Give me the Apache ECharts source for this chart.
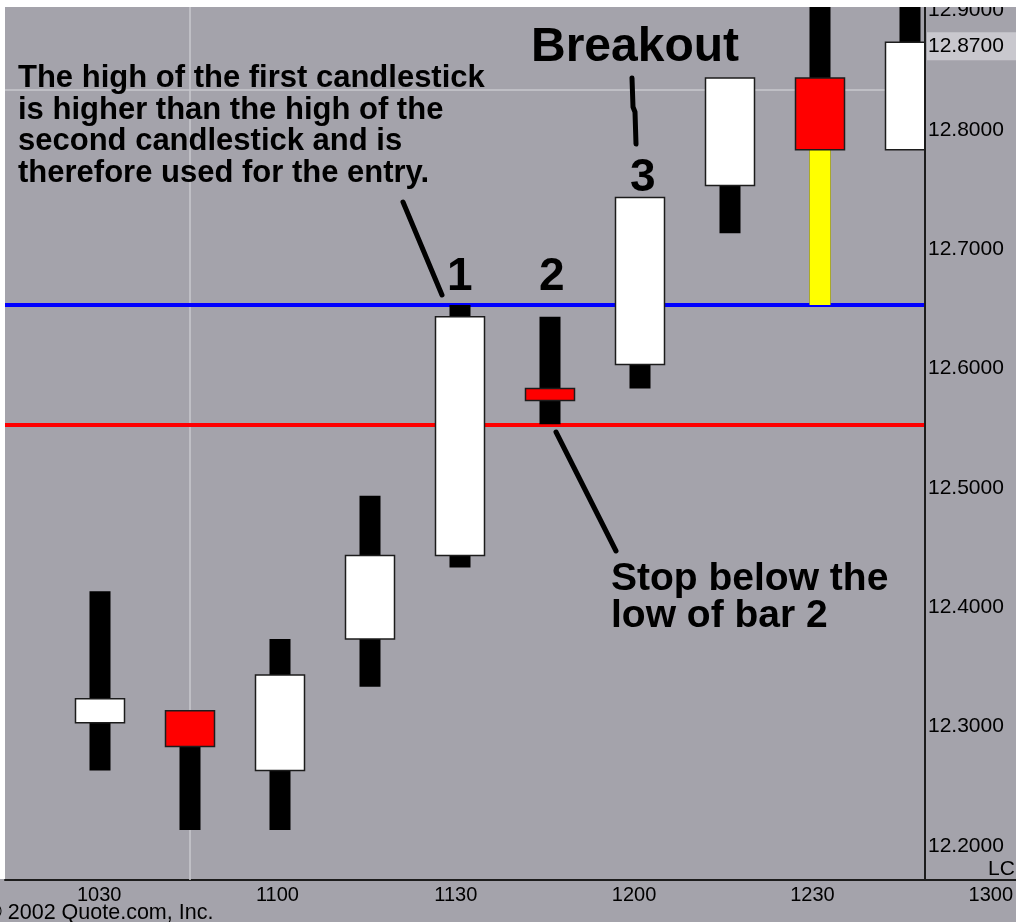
<!DOCTYPE html>
<html>
<head>
<meta charset="utf-8">
<title>Breakout</title>
<script src="https://cdn.jsdelivr.net/npm/echarts@6/dist/echarts.min.js"></script>
<style>
  html, body { margin: 0; padding: 0; background: #fff; }
  #main { width: 1016px; height: 922px; }
</style>
</head>
<body>
<div id="main"></div>
<script>
  // 15 minute bars
  var times  = ['1030', '1045', '1100', '1115', '1130', '1145', '1200', '1215', '1230', '1245'];
  var opens  = [12.30, 12.31, 12.26, 12.37, 12.44, 12.58, 12.60, 12.75, 12.84, 12.78];
  var closes = [12.32, 12.28, 12.34, 12.44, 12.64, 12.57, 12.74, 12.84, 12.78, 12.87];
  var lows   = [12.26, 12.21, 12.21, 12.33, 12.43, 12.55, 12.58, 12.71, 12.65, 12.78];
  var highs  = [12.41, 12.31, 12.37, 12.49, 12.65, 12.64, 12.74, 12.84, 12.93, 12.93];
  var axisTimes = ['1015'].concat(times, ['1300']);
  var priceTicks = [12.2, 12.3, 12.4, 12.5, 12.6, 12.7, 12.8, 12.9];

  var entryLevel = 12.65;   // blue line
  var stopLevel = 12.55;    // red line
  var crossLineY = 12.83;   // crosshair
  var crossBar = 1;
  var crossPrice = 12.87;   // highlighted price label
  var breakoutBar = 8;      // bar with yellow lower wick

  var wickData = [], bodyData = [], yellowData = [];
  for (var i = 0; i < times.length; i++) {
    var lo = Math.min(opens[i], closes[i]), hi = Math.max(opens[i], closes[i]);
    wickData.push([i, lows[i], highs[i], lows[i], highs[i]]);
    bodyData.push([i, opens[i], closes[i], lo, hi]);
    if (i === breakoutBar) yellowData.push([i, lows[i], lo, lows[i], lo]);
  }

  var myChart = echarts.init(document.getElementById('main'));
  var BG = '#a4a3ab';
  var AX = '#1c1c1c';
  var labelFont = '"Liberation Sans", Arial, sans-serif';

  var option = {
    animation: false,
    backgroundColor: BG,
    grid: [
      { left: 5, top: 4, right: 91, bottom: 42 },
      { left: 10, top: 4, right: 16, bottom: 42 }
    ],
    xAxis: [
      {
        type: 'value', gridIndex: 0,
        min: -95 / 90, max: 825 / 90,
        axisLine: { show: true, onZero: false, lineStyle: { color: AX, width: 2 } },
        axisTick: { show: false }, axisLabel: { show: false }, splitLine: { show: false }
      },
      {
        type: 'category', gridIndex: 1, boundaryGap: false, data: axisTimes,
        axisLine: { show: false }, axisTick: { show: false }, splitLine: { show: false },
        axisLabel: {
          interval: function (idx) { return idx % 2 === 1; },
          color: '#000', fontSize: 20, fontFamily: labelFont, margin: 5
        }
      }
    ],
    yAxis: [
      {
        type: 'value', gridIndex: 0, position: 'right', z: 10,
        min: 12.9 - 876 / 1197, max: 12.9,
        axisLine: { show: true, onZero: false, lineStyle: { color: AX, width: 2 } },
        axisTick: { show: false }, splitLine: { show: false },
        axisLabel: {
          customValues: priceTicks,
          formatter: function (v) { return v.toFixed(4); },
          color: '#000', fontSize: 21, fontFamily: labelFont, margin: 3,
          verticalAlign: 'top', lineHeight: 8
        }
      },
      { type: 'value', gridIndex: 1, show: false, min: 0, max: 1 }
    ],
    series: [
      {
        name: 'wick', type: 'candlestick', xAxisIndex: 0, yAxisIndex: 0, z: 2,
        barWidth: 22, data: wickData,
        itemStyle: { color: '#000', color0: '#000', borderColor: '#000', borderColor0: '#000', borderWidth: 0 },
        markLine: {
          z: 1, silent: true, symbol: 'none', label: { show: false },
          data: [
            { xAxis: crossBar, lineStyle: { color: '#c9c9ce', width: 1.5, type: 'solid' } },
            { yAxis: crossLineY, lineStyle: { color: '#c9c9ce', width: 1.5, type: 'solid' } },
            { yAxis: stopLevel, lineStyle: { color: '#ff0000', width: 4, type: 'solid' } },
            { yAxis: entryLevel, lineStyle: { color: '#0000ff', width: 4, type: 'solid' } }
          ]
        }
      },
      {
        name: 'yellow', type: 'candlestick', xAxisIndex: 0, yAxisIndex: 0, z: 3,
        barWidth: 22, data: yellowData,
        itemStyle: { color: '#ffff00', color0: '#ffff00', borderColor: '#ffff00', borderColor0: '#ffff00', borderWidth: 0 }
      },
      {
        name: 'body', type: 'candlestick', xAxisIndex: 0, yAxisIndex: 0, z: 4,
        barWidth: 49, data: bodyData,
        itemStyle: { color: '#ffffff', color0: '#ff0000', borderColor: AX, borderColor0: AX, borderWidth: 1.5 }
      }
    ]
  };
  myChart.setOption(option);

  var txt = function (x, y, s, size, lh) {
    return {
      type: 'text', x: x, y: y, z: 20,
      style: {
        text: s, fill: '#000',
        font: 'bold ' + size + 'px ' + labelFont,
        lineHeight: lh || size,
        textVerticalAlign: 'top'
      }
    };
  };
  var seg = function (pts) {
    return { type: 'polyline', z: 20, shape: { points: pts }, style: { stroke: '#000', lineWidth: 5, lineCap: 'round', lineJoin: 'round', fill: null } };
  };

  var crossY = myChart.convertToPixel({ yAxisIndex: 0 }, crossPrice);

  myChart.setOption({
    graphic: [
      // hides the part of the last bar that runs into the price scale
      { type: 'rect', z: 5, shape: { x: 926, y: 0, width: 90, height: 879 }, style: { fill: BG } },
      txt(18, 63, 'The high of the first candlestick\nis higher than the high of the\nsecond candlestick and is\ntherefore used for the entry.', 31, 31.5),
      txt(531, 24, 'Breakout', 48),
      txt(447, 254, '1', 46),
      txt(539, 254, '2', 46),
      txt(630, 155, '3', 46),
      txt(611, 561, 'Stop below the\nlow of bar 2', 39, 37),
      seg([[403, 202], [442, 295]]),
      seg([[632, 78], [633, 107], [635, 112], [636, 144]]),
      seg([[556, 432], [616, 551]]),
      {
        type: 'rect', z: 15, shape: { x: 927, y: crossY - 10, width: 89, height: 28 },
        style: { fill: '#c9c8ce' }
      },
      {
        type: 'text', z: 16, x: 928, y: crossY + 4,
        style: { text: crossPrice.toFixed(4), fill: '#000', font: '21px ' + labelFont, textVerticalAlign: 'middle' }
      },
      {
        type: 'text', z: 16, x: 988, y: 869,
        style: { text: 'LC', fill: '#000', font: '21px ' + labelFont, textVerticalAlign: 'middle' }
      },
      {
        type: 'line', z: 11, shape: { x1: 925, y1: 880, x2: 1016, y2: 880 },
        style: { stroke: AX, lineWidth: 2 }
      },
      {
        type: 'text', z: 16, x: -14, y: 913,
        style: { text: '\u00a9 2002 Quote.com, Inc.', fill: '#000', font: '21.5px ' + labelFont, textVerticalAlign: 'middle' }
      },
      { type: 'rect', z: 100, shape: { x: 0, y: 0, width: 1016, height: 7 }, style: { fill: '#fff' } },
      { type: 'rect', z: 100, shape: { x: 0, y: 0, width: 5, height: 879 }, style: { fill: '#fff' } }
    ]
  });
</script>
</body>
</html>
